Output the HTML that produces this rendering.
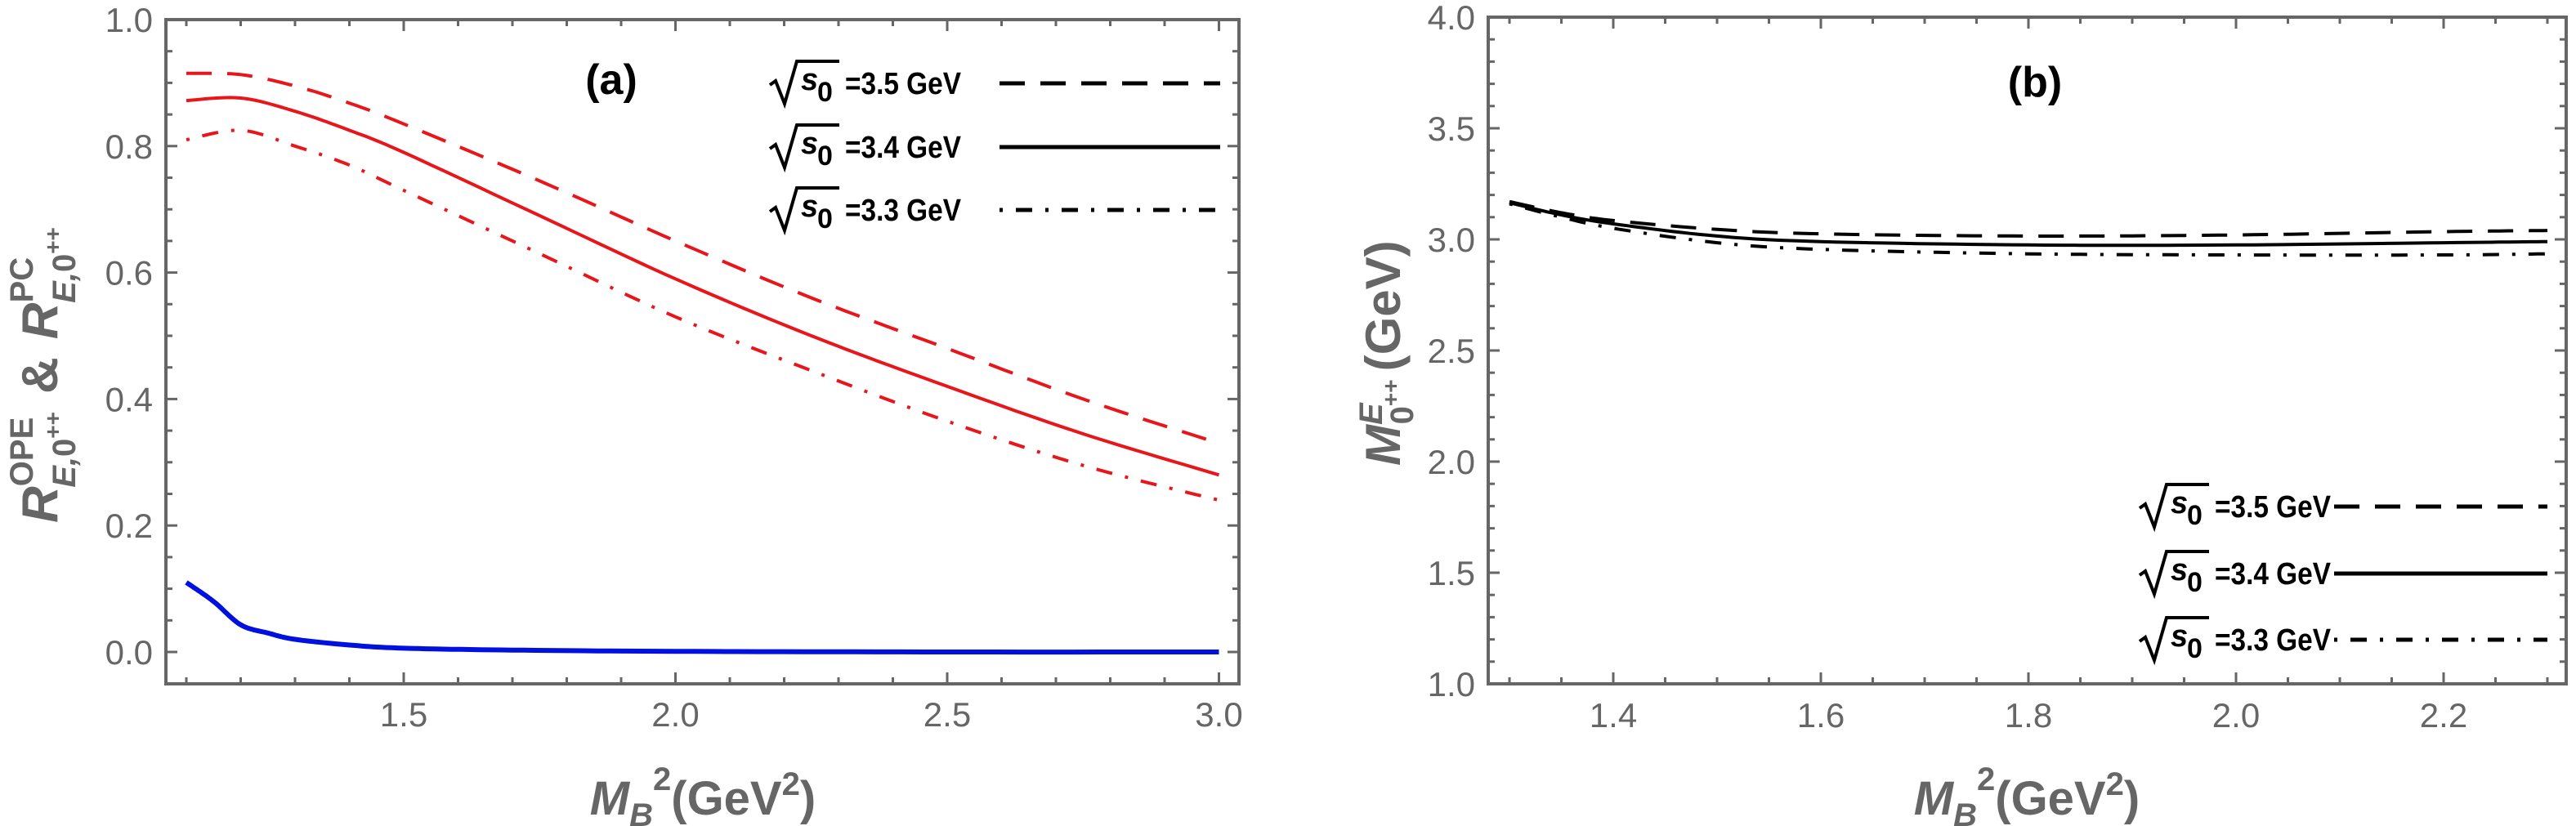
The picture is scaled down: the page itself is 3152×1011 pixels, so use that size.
<!DOCTYPE html>
<html><head><meta charset="utf-8"><style>
html,body{margin:0;padding:0;background:#fff;}
svg{display:block;}
text{font-family:"Liberation Sans",sans-serif;}
</style></head><body>
<svg id="s" width="3152" height="1011" viewBox="0 0 3152 1011" xmlns="http://www.w3.org/2000/svg">
<rect width="3152" height="1011" fill="#fff"/>
<g id="g"></g>
<text x="748" y="115" font-size="52" font-weight="bold" text-anchor="middle" fill="#000">(a)</text>
<text x="2490" y="118" font-size="52" font-weight="bold" text-anchor="middle" fill="#000">(b)</text>
<text x="860" y="997" font-size="58" font-weight="bold" fill="#666" text-anchor="middle"><tspan font-style="italic">M</tspan><tspan font-style="italic" font-size="40" dy="14">B</tspan><tspan font-size="40" dy="-44">2</tspan><tspan dy="30">(GeV</tspan><tspan font-size="40" dy="-24">2</tspan><tspan dy="24">)</tspan></text>
<text x="2480" y="997" font-size="58" font-weight="bold" fill="#666" text-anchor="middle"><tspan font-style="italic">M</tspan><tspan font-style="italic" font-size="40" dy="14">B</tspan><tspan font-size="40" dy="-44">2</tspan><tspan dy="30">(GeV</tspan><tspan font-size="40" dy="-24">2</tspan><tspan dy="24">)</tspan></text>
<text transform="translate(70,640) rotate(-90)" font-size="62" font-weight="bold" fill="#666"><tspan font-style="italic">R</tspan><tspan font-size="40" dy="-30">OPE</tspan><tspan font-size="40" font-style="italic" dx="-86" dy="52">E,</tspan><tspan font-size="40">0</tspan><tspan font-size="28" dy="-18">++</tspan><tspan dx="22" dy="-4">&amp;</tspan><tspan dx="22" font-style="italic">R</tspan><tspan font-size="40" dy="-30">PC</tspan><tspan font-size="40" font-style="italic" dx="-56" dy="52">E,</tspan><tspan font-size="40">0</tspan><tspan font-size="28" dy="-18">++</tspan></text>
<text transform="translate(1713,570) rotate(-90)" font-size="60" font-weight="bold" fill="#666"><tspan font-style="italic">M</tspan><tspan font-size="40" font-style="italic" dy="-22">E</tspan><tspan font-size="40" dx="-26" dy="38">0</tspan><tspan font-size="28" dy="-18">++</tspan><tspan dx="10" dy="2">(GeV)</tspan></text>
</svg>
<script>
const NS="http://www.w3.org/2000/svg";
const g=document.getElementById('g');
function el(t,a,txt){const e=document.createElementNS(NS,t);for(const k in a)e.setAttribute(k,a[k]);if(txt!==undefined)e.textContent=txt;g.appendChild(e);return e;}
const GR="#666";
const ax=v=>494+(v-1.5)*665, ay=v=>798-774*v;
const bx=v=>1974+(v-1.4)*1270, by=v=>837-272*(v-1);
function frame(L,T,R,B){el('rect',{x:L,y:T,width:R-L,height:B-T,fill:'none',stroke:GR,'stroke-width':4});}
frame(203,24,1516,837);
frame(1821,21,3140,837);
for(let i=0;i<=20;i++){const v=1.1+i*0.1;const x=ax(v);if(x>1514)break;const maj=Math.abs((v*2)-Math.round(v*2))<1e-6;const L=maj?14:8;
el('line',{x1:x,y1:837,x2:x,y2:837-L,stroke:GR,'stroke-width':3});el('line',{x1:x,y1:24,x2:x,y2:24+L,stroke:GR,'stroke-width':3});
if(maj)el('text',{x:x,y:889,'font-size':42,fill:GR,'text-anchor':'middle'},v.toFixed(1));}
for(let i=-1;i<=20;i++){const v=i*0.05;const y=ay(v);if(y>835||y<26)continue;const maj=i%4==0;const L=maj?14:8;
el('line',{x1:203,y1:y,x2:203+L,y2:y,stroke:GR,'stroke-width':3});el('line',{x1:1516,y1:y,x2:1516-L,y2:y,stroke:GR,'stroke-width':3});
if(maj)el('text',{x:187,y:y+15,'font-size':42,fill:GR,'text-anchor':'end'},v.toFixed(1));}
el('text',{x:187,y:ay(1)+15,'font-size':42,fill:GR,'text-anchor':'end'},'1.0');
for(let i=0;i<=21;i++){const v=1.3+i*0.05;const x=bx(v);if(x>3138)break;const maj=(i%4==2);const L=maj?14:8;
el('line',{x1:x,y1:837,x2:x,y2:837-L,stroke:GR,'stroke-width':3});el('line',{x1:x,y1:21,x2:x,y2:21+L,stroke:GR,'stroke-width':3});
if(maj)el('text',{x:x,y:890,'font-size':42,fill:GR,'text-anchor':'middle'},v.toFixed(1));}
for(let i=0;i<=30;i++){const v=1+i*0.1;const y=by(v);const maj=i%5==0;const L=maj?14:8;
if(i>0&&i<30){el('line',{x1:1821,y1:y,x2:1821+L,y2:y,stroke:GR,'stroke-width':3});el('line',{x1:3140,y1:y,x2:3140-L,y2:y,stroke:GR,'stroke-width':3});}
if(maj)el('text',{x:1805,y:y+15,'font-size':42,fill:GR,'text-anchor':'end'},v.toFixed(1));}
function cr(pts,n){const out=[];for(let i=0;i<pts.length-1;i++){const p0=pts[Math.max(0,i-1)],p1=pts[i],p2=pts[i+1],p3=pts[Math.min(pts.length-1,i+2)];
for(let k=0;k<n;k++){const t=k/n,t2=t*t,t3=t2*t;const f=(a,b,c,d)=>0.5*((2*b)+(-a+c)*t+(2*a-5*b+4*c-d)*t2+(-a+3*b-3*c+d)*t3);out.push([f(p0[0],p1[0],p2[0],p3[0]),f(p0[1],p1[1],p2[1],p3[1])]);}}out.push(pts[pts.length-1]);return out;}
function curve(data,fx,fy,col,w,dash){const pts=data.map(d=>[fx(d[0]),fy(d[1])]);const c=cr(pts,12);
const a={d:'M'+c.map(p=>p[0].toFixed(1)+','+p[1].toFixed(1)).join('L'),fill:'none',stroke:col,'stroke-width':w,'stroke-linejoin':'round'};if(dash)a['stroke-dasharray']=dash;el('path',a);}
const RED="#e8161b";
curve([[1.1,.915],[1.2,.913],[1.3,.895],[1.4,.868],[1.5,.835],[1.75,.745],[2,.65],[2.25,.56],[2.5,.48],[2.75,.40],[3,.33]],ax,ay,RED,4,"31 19");
curve([[1.1,.872],[1.2,.876],[1.3,.855],[1.4,.825],[1.5,.79],[1.75,.69],[2,.59],[2.25,.50],[2.5,.42],[2.75,.345],[3,.28]],ax,ay,RED,4);
curve([[1.1,.81],[1.2,.825],[1.3,.8],[1.4,.77],[1.5,.73],[1.75,.63],[2,.53],[2.25,.445],[2.5,.365],[2.75,.295],[3,.24]],ax,ay,RED,4,"4 16 20 16");
curve([[1.1,.11],[1.15,.08],[1.2,.043],[1.25,.03],[1.3,.02],[1.4,.011],[1.5,.006],[1.7,.003],[2,.001],[2.5,0],[3,0]],ax,ay,"#0010e0",6);
curve([[1.3,3.17],[1.35,3.12],[1.4,3.085],[1.5,3.045],[1.6,3.025],[1.8,3.015],[2,3.02],[2.2,3.035],[2.3,3.04]],bx,by,"#000",4,"31 19");
curve([[1.3,3.165],[1.35,3.11],[1.4,3.07],[1.5,3.015],[1.6,2.99],[1.8,2.975],[2,2.975],[2.2,2.985],[2.3,2.99]],bx,by,"#000",4);
curve([[1.3,3.16],[1.35,3.1],[1.4,3.05],[1.5,2.985],[1.6,2.955],[1.8,2.935],[2,2.93],[2.2,2.93],[2.3,2.935]],bx,by,"#000",4,"4 16 20 16");
function leg(x0,y,lbl,lx1,lx2,dash){
 el('path',{d:`M${x0},${y+2} l7,-5 l11,28 l15,-52 h52`,fill:'none',stroke:'#000','stroke-width':4});
 el('text',{x:x0+38,y:y+8,'font-size':38,'font-weight':'bold','font-style':'italic',fill:'#000'},'s');
 el('text',{x:x0+58,y:y+22,'font-size':34,'font-weight':'bold',fill:'#000'},'0');
 el('text',{x:x0+92,y:y+13,'font-size':38,'font-weight':'bold',fill:'#000',textLength:142,lengthAdjust:'spacingAndGlyphs'},lbl);
 const a={x1:lx1,y1:y,x2:lx2,y2:y,stroke:'#000','stroke-width':5};if(dash)a['stroke-dasharray']=dash;el('line',a);}
leg(942,102,'=3.5 GeV',1223,1493,"31 19");
leg(942,180,'=3.4 GeV',1223,1493);
leg(942,257,'=3.3 GeV',1223,1493,"4 16 20 16");
leg(2618,620,'=3.5 GeV',2856,3117,"31 19");
leg(2618,702,'=3.4 GeV',2856,3117);
leg(2618,783,'=3.3 GeV',2856,3117,"4 16 20 16");
</script>
</body></html>
